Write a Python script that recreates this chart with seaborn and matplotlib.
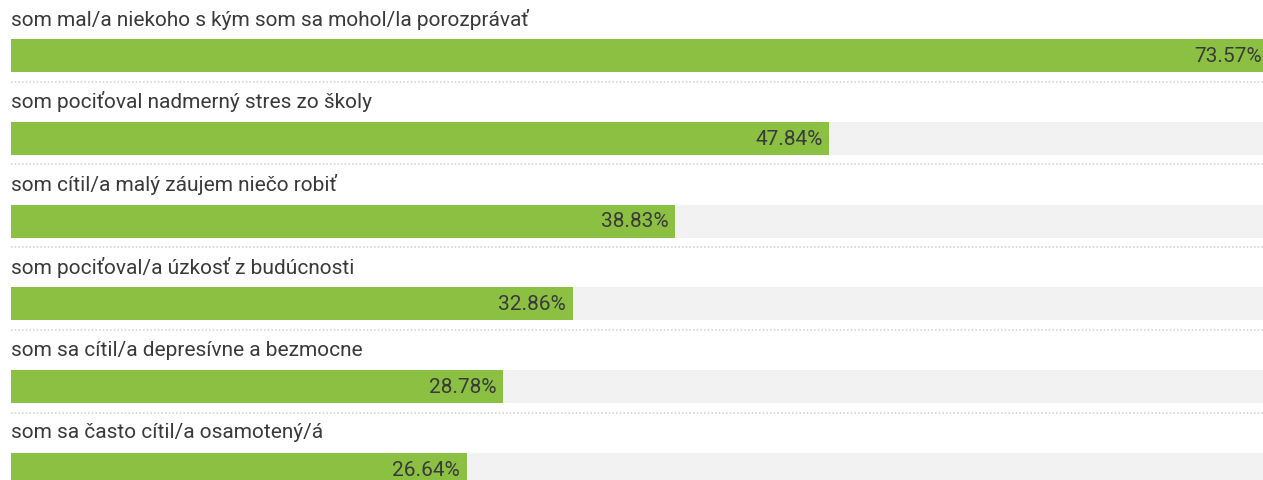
import numpy as np
import pandas as pd
import matplotlib
matplotlib.use("Agg")
import matplotlib.pyplot as plt
import seaborn as sns

# data
labels = [
    "som mal/a niekoho s kým som sa mohol/la porozprávať",
    "som pociťoval nadmerný stres zo školy",
    "som cítil/a malý záujem niečo robiť",
    "som pociťoval/a úzkosť z budúcnosti",
    "som sa cítil/a depresívne a bezmocne",
    "som sa často cítil/a osamotený/á",
]
values = [73.57, 47.84, 38.83, 32.86, 28.78, 26.64]

green = "#8bc043"
track = "#f2f2f2"
text_col = "#3a3a3a"
x_max = 73.2  # the top bar runs slightly past the track end

sns.set_theme(style="white")
plt.rcParams["font.family"] = ["Roboto", "DejaVu Sans"]

df = pd.DataFrame({"label": labels, "value": values})
df["full"] = x_max

fig = plt.figure(figsize=(12.63, 4.8), dpi=100)
W, H = 1263, 480
ax = fig.add_axes([11 / W, 0, 1252 / W, 1])

# grey track behind, then the green bar
sns.barplot(data=df, y="label", x="full", color=track, width=0.40,
            orient="h", ax=ax, saturation=1, linewidth=0)
sns.barplot(data=df, y="label", x="value", color=green, width=0.40,
            orient="h", ax=ax, saturation=1, linewidth=0)

pitch = 82.8
top = -55.5 / pitch
ax.set_ylim(top + H / pitch, top)
ax.set_xlim(0, x_max)

for i, (lab, v) in enumerate(zip(labels, values)):
    ax.text(0, i - 36.5 / pitch, lab, ha="left", va="center",
            fontsize=15, color=text_col)
    # clipped bar: keep the label flush with the edge
    tx = x_max - 0.08 if v > x_max else v - 0.4
    ax.text(tx, i + 0.01, f"{v:.2f}%", ha="right",
            va="center", fontsize=15, color=text_col)
    ax.plot([0, x_max], [i + 26 / pitch] * 2, color="#d6d6d6",
            lw=1.2, ls=(0, (1, 1.2)), clip_on=False)

ax.set_xlabel("")
ax.set_ylabel("")
ax.set_xticks([])
ax.set_yticks([])
sns.despine(ax=ax, left=True, bottom=True)

fig.savefig("out.png", dpi=100)
